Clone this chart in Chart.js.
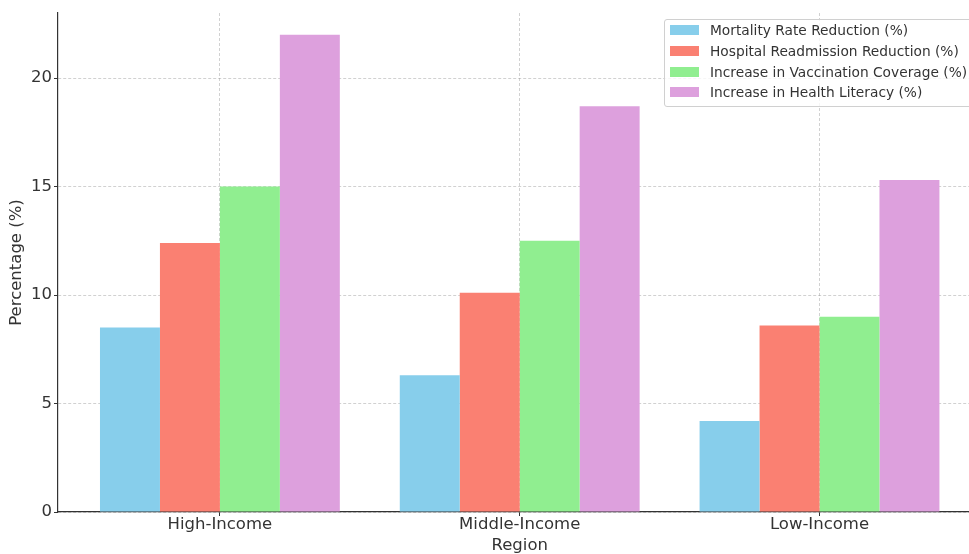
<!DOCTYPE html>
<html>
<head>
<meta charset="utf-8">
<script src="https://cdn.jsdelivr.net/npm/chart.js@4.4.0/dist/chart.umd.min.js"></script>
<style>
  html, body { margin: 0; padding: 0; background: #fff; overflow: hidden; }
  #wrap { position: relative; width: 990px; height: 554px; }
  #legend {
    position: absolute; left: 664px; top: 19px; width: 310px;
    box-sizing: border-box; padding: 0 0 3px 0;
    background: rgba(255,255,255,0.8); border: 1px solid #d0d0d0; border-radius: 3px;
    font-family: "DejaVu Sans", sans-serif; font-size: 13.75px; color: #333;
  }
  .row { height: 20.7px; display: flex; align-items: center; }
  .sw { width: 29px; height: 10px; margin-left: 5px; margin-right: 11px; }
</style>
</head>
<body>
<div id="wrap">
  <canvas id="chart" width="990" height="554"></canvas>
  <div id="legend"></div>
</div>
<script>
// Data
const regions = ['High-Income', 'Middle-Income', 'Low-Income'];
const mortalityReduction = [8.5, 6.3, 4.2];
const readmissionReduction = [12.4, 10.1, 8.6];
const vaccinationIncrease = [15.0, 12.5, 9.0];
const literacyIncrease = [22.0, 18.7, 15.3];
const yTicks = [0, 5, 10, 15, 20];

const seriesNames = [
  'Mortality Rate Reduction (%)',
  'Hospital Readmission Reduction (%)',
  'Increase in Vaccination Coverage (%)',
  'Increase in Health Literacy (%)'
];
const seriesColors = ['#87CEEB', '#FA8072', '#90EE90', '#DDA0DD'];
const seriesValues = [mortalityReduction, readmissionReduction, vaccinationIncrease, literacyIncrease];

const font = { family: 'DejaVu Sans', size: 16.5 };
const gridColor = 'rgba(140,140,140,0.4)';

const datasets = seriesValues.map((vals, s) => ({
  label: seriesNames[s],
  data: vals.map((v, i) => ({ x: i, y: v })),
  backgroundColor: seriesColors[s],
  borderWidth: 0,
  categoryPercentage: 0.8,
  barPercentage: 1.0
}));

const ctx = document.getElementById('chart').getContext('2d');
const chart = new Chart(ctx, {
  type: 'bar',
  data: { datasets: datasets },
  options: {
    responsive: false,
    animation: false,
    devicePixelRatio: 1,
    layout: { padding: { left: 0, top: 13, right: 8.6, bottom: 0 } },
    plugins: {
      legend: { display: false },
      tooltip: { enabled: false }
    },
    scales: {
      x: {
        type: 'linear',
        min: -0.54,
        max: 2.54,
        offset: false,
        z: 1,
        afterBuildTicks: (scale) => { scale.ticks = regions.map((r, i) => ({ value: i })); },
        afterFit: (scale) => { scale.height = 42; },
        ticks: {
          font: font, color: '#333', padding: -1,
          callback: (v) => regions[v]
        },
        grid: {
          offset: false,
          color: gridColor, lineWidth: 1,
          tickColor: '#333', tickLength: 4, tickBorderDash: []
        },
        border: { display: true, color: '#333', width: 1.2, dash: [3, 2] },
        title: {
          display: true, text: 'Region', color: '#333',
          font: { family: 'DejaVu Sans', size: 16.5, lineHeight: 1.0 },
          padding: { top: 0, bottom: 0 }
        }
      },
      y: {
        min: 0,
        max: 23,
        z: 1,
        afterBuildTicks: (scale) => { scale.ticks = yTicks.map(v => ({ value: v })); },
        afterFit: (scale) => { scale.width = 58; },
        ticks: { font: font, color: '#333', padding: 2 },
        grid: {
          color: gridColor, lineWidth: 1,
          tickColor: '#333', tickLength: 4, tickBorderDash: []
        },
        border: { display: true, color: '#333', width: 1.2, dash: [3, 2] },
        title: {
          display: true, text: 'Percentage (%)', color: '#333',
          font: { family: 'DejaVu Sans', size: 16.5, lineHeight: 1.2 },
          padding: { top: 7, bottom: 0 }
        }
      }
    }
  }
});

// HTML legend built from the chart datasets
const legend = document.getElementById('legend');
chart.data.datasets.forEach(ds => {
  const row = document.createElement('div');
  row.className = 'row';
  const sw = document.createElement('span');
  sw.className = 'sw';
  sw.style.background = ds.backgroundColor;
  const txt = document.createElement('span');
  txt.textContent = ds.label;
  row.appendChild(sw);
  row.appendChild(txt);
  legend.appendChild(row);
});
</script>
</body>
</html>
